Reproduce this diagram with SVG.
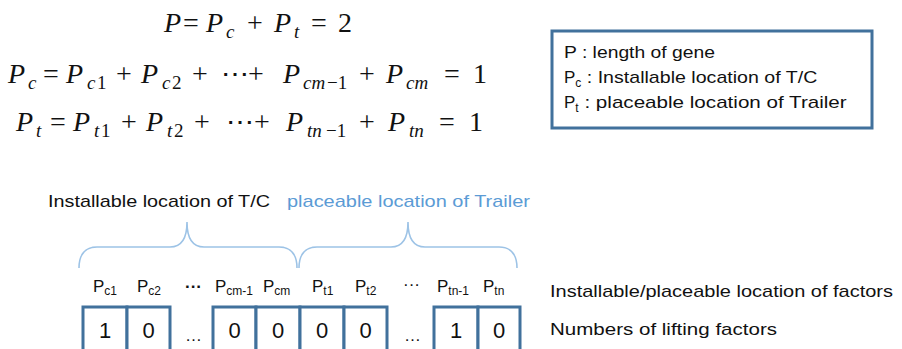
<svg xmlns="http://www.w3.org/2000/svg" width="902" height="349" viewBox="0 0 902 349">
<style>
.m{font-family:"Liberation Serif","DejaVu Serif",serif;font-size:28px;fill:#111}
.mi{font-style:italic}
.ms{font-size:19px}
.t{font-family:"Liberation Sans","DejaVu Sans",sans-serif;font-size:17px;fill:#111}
.blue{fill:#5B9BD5}
.sub{font-size:12px}
.cell{fill:#fff;stroke:#41719C;stroke-width:3}
.num{font-family:"Liberation Sans","DejaVu Sans",sans-serif;font-size:22px;fill:#111;text-anchor:middle}
.brace{fill:none;stroke:#9DC3E6;stroke-width:1.6}
</style>
<rect width="902" height="349" fill="#fff"/>
<g id="equations">
  <text class="m" y="32"><tspan class="mi" x="164">P</tspan><tspan x="183">=</tspan><tspan class="mi" x="206">P</tspan><tspan class="mi ms" x="226" dy="6">c</tspan><tspan x="247" dy="-6">+</tspan><tspan class="mi" x="274">P</tspan><tspan class="mi ms" x="294" dy="6">t</tspan><tspan x="311" dy="-6">=</tspan><tspan x="338">2</tspan></text>
  <text class="m" y="83"><tspan class="mi" x="8">P</tspan><tspan class="mi ms" x="28" dy="6">c</tspan><tspan x="43" dy="-6">=</tspan><tspan class="mi" x="66">P</tspan><tspan class="mi ms" x="87" dy="6">c</tspan><tspan class="ms" x="97">1</tspan><tspan x="116" dy="-6">+</tspan><tspan class="mi" x="141">P</tspan><tspan class="mi ms" x="162" dy="6">c</tspan><tspan class="ms" x="172">2</tspan><tspan x="192" dy="-6">+</tspan><tspan x="221">⋯</tspan><tspan x="248">+</tspan><tspan class="mi" x="283">P</tspan><tspan class="mi ms" x="303" dy="6">cm</tspan><tspan class="ms" x="327">−1</tspan><tspan x="359" dy="-6">+</tspan><tspan class="mi" x="386">P</tspan><tspan class="mi ms" x="406" dy="6">cm</tspan><tspan x="444" dy="-6">=</tspan><tspan x="473">1</tspan></text>
  <text class="m" y="131"><tspan class="mi" x="16">P</tspan><tspan class="mi ms" x="36" dy="6">t</tspan><tspan x="50" dy="-6">=</tspan><tspan class="mi" x="73">P</tspan><tspan class="mi ms" x="94" dy="6">t</tspan><tspan class="ms" x="101">1</tspan><tspan x="121" dy="-6">+</tspan><tspan class="mi" x="146">P</tspan><tspan class="mi ms" x="167" dy="6">t</tspan><tspan class="ms" x="174">2</tspan><tspan x="194" dy="-6">+</tspan><tspan x="226">⋯</tspan><tspan x="254">+</tspan><tspan class="mi" x="286">P</tspan><tspan class="mi ms" x="307" dy="6">tn</tspan><tspan class="ms" x="326">−1</tspan><tspan x="359" dy="-6">+</tspan><tspan class="mi" x="388">P</tspan><tspan class="mi ms" x="409" dy="6">tn</tspan><tspan x="439" dy="-6">=</tspan><tspan x="469">1</tspan></text>
</g>
<g id="legend">
  <rect x="552" y="31" width="320" height="97" fill="#fff" stroke="#41719C" stroke-width="3"/>
  <text class="t" x="564" y="58" textLength="151" lengthAdjust="spacingAndGlyphs">P : length of gene</text>
  <text class="t" x="564" y="83">P<tspan class="sub" dy="4">c</tspan><tspan dy="-4" textLength="236" lengthAdjust="spacingAndGlyphs"> : Installable location of T/C</tspan></text>
  <text class="t" x="564" y="108">P<tspan class="sub" dy="4">t</tspan><tspan dy="-4" textLength="268" lengthAdjust="spacingAndGlyphs"> : placeable location of Trailer</tspan></text>
</g>
<g id="brace-labels">
  <text class="t" x="48" y="207" textLength="222" lengthAdjust="spacingAndGlyphs">Installable location of T/C</text>
  <text class="t blue" x="287" y="207" textLength="243" lengthAdjust="spacingAndGlyphs">placeable location of Trailer</text>
</g>
<g id="connectors">
  <path class="brace" d="M79,268 C79,255 85,247 97,247 L170,247 C180,247 187,240 187,222 C187,240 194,247 204,247 L279,247 C291,247 297,255 297,268"/>
  <path class="brace" d="M299,268 C299,255 305,247 317,247 L391,247 C401,247 408,240 408,222 C408,240 415,247 425,247 L499,247 C511,247 517,255 517,268"/>
</g>
<g id="factor-labels">
  <text class="t" x="93" y="292">P<tspan class="sub" dy="3">c1</tspan></text>
  <text class="t" x="137" y="292">P<tspan class="sub" dy="3">c2</tspan></text>
  <text class="t" x="185" y="292" font-weight="bold">···</text>
  <text class="t" x="215" y="292">P<tspan class="sub" dy="3">cm-1</tspan></text>
  <text class="t" x="263" y="292">P<tspan class="sub" dy="3">cm</tspan></text>
  <text class="t" x="312" y="292">P<tspan class="sub" dy="3">t1</tspan></text>
  <text class="t" x="355" y="292">P<tspan class="sub" dy="3">t2</tspan></text>
  <text class="t" x="403" y="290" font-size="13">···</text>
  <text class="t" x="437" y="292">P<tspan class="sub" dy="3">tn-1</tspan></text>
  <text class="t" x="483" y="292">P<tspan class="sub" dy="3">tn</tspan></text>
</g>
<g id="cells">
  <rect class="cell" x="83" y="307" width="44" height="50"/>
  <rect class="cell" x="127" y="307" width="43" height="50"/>
  <rect class="cell" x="213" y="307" width="43" height="50"/>
  <rect class="cell" x="256" y="307" width="44" height="50"/>
  <rect class="cell" x="300" y="307" width="44" height="50"/>
  <rect class="cell" x="344" y="307" width="43" height="50"/>
  <rect class="cell" x="434" y="307" width="44" height="50"/>
  <rect class="cell" x="478" y="307" width="42" height="50"/>
  <text class="num" x="105" y="338">1</text>
  <text class="num" x="148.5" y="338">0</text>
  <text class="t" x="185" y="341" font-size="12">…</text>
  <text class="num" x="234.5" y="338">0</text>
  <text class="num" x="278" y="338">0</text>
  <text class="num" x="322" y="338">0</text>
  <text class="num" x="365.5" y="338">0</text>
  <text class="t" x="404" y="341" font-size="12">…</text>
  <text class="num" x="456" y="338">1</text>
  <text class="num" x="499" y="338">0</text>
</g>
<g id="row-labels">
  <text class="t" x="550" y="297" textLength="343" lengthAdjust="spacingAndGlyphs">Installable/placeable location of factors</text>
  <text class="t" x="550" y="335" textLength="227" lengthAdjust="spacingAndGlyphs">Numbers of lifting factors</text>
</g>
</svg>
